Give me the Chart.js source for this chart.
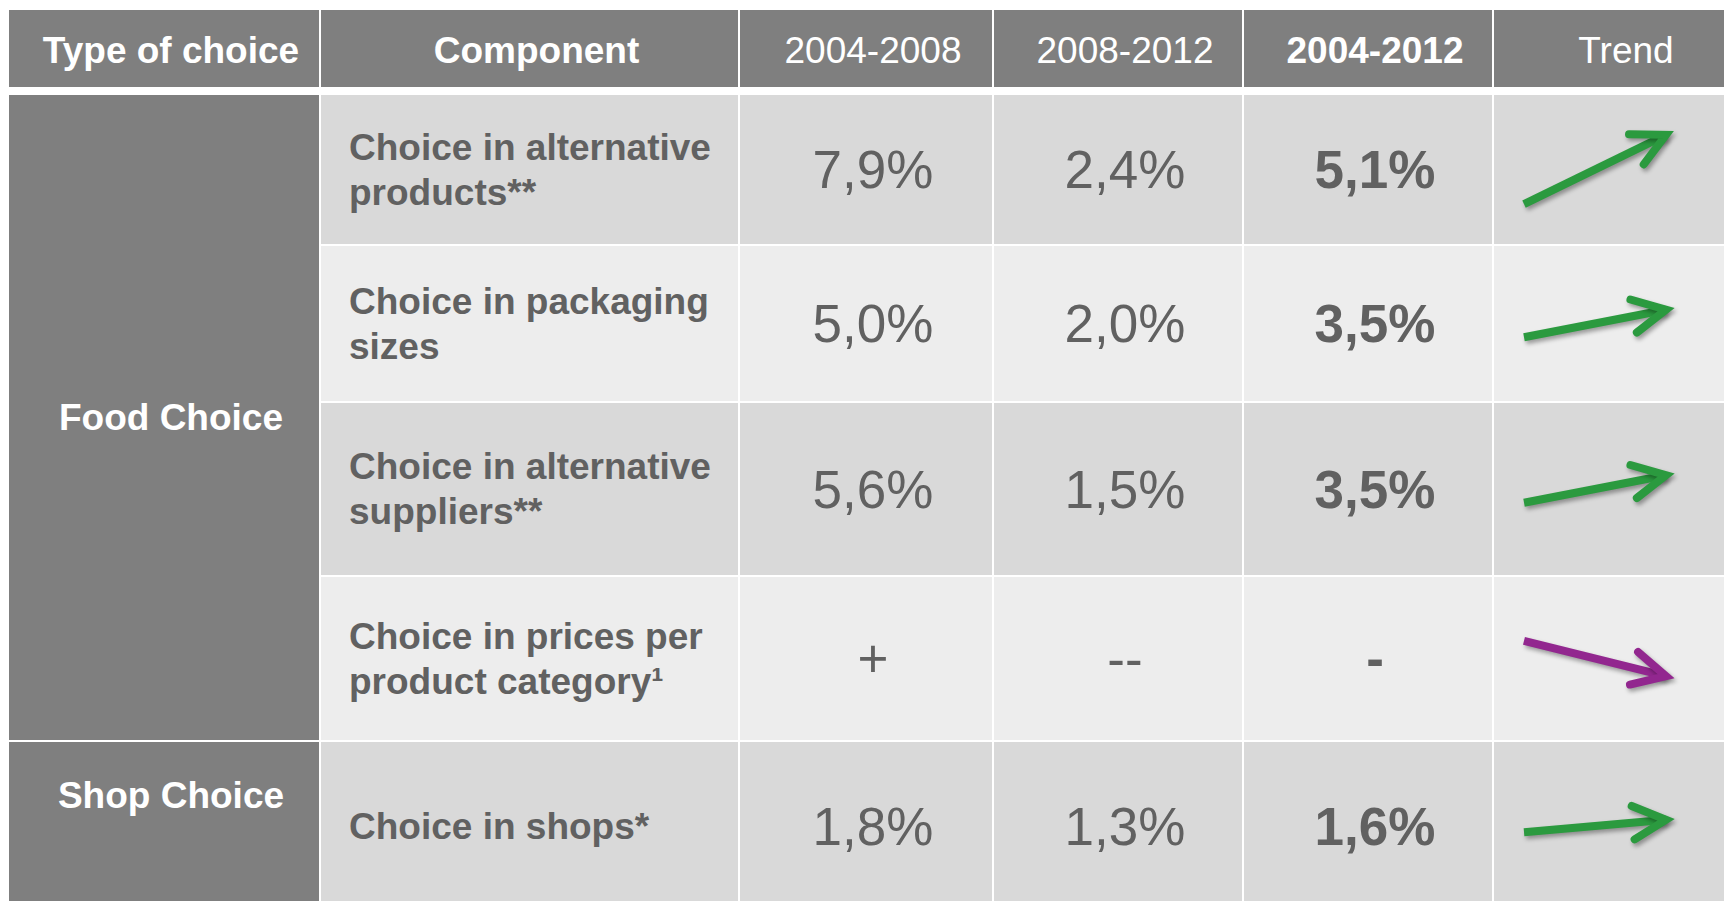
<!DOCTYPE html>
<html>
<head>
<meta charset="utf-8">
<title>Choice growth by component</title>
<script src="https://cdn.jsdelivr.net/npm/chart.js@4/dist/chart.umd.min.js"></script>
<style>
    body {
        margin: 0;
        width: 1724px;
        height: 901px;
        overflow: hidden;
        background: #fff;
        font-family: "Liberation Sans", Arial, sans-serif;
    }
    #grid {
        position: absolute;
        left: 9px;
        top: 10px;
        display: grid;
        grid-template-columns: 310px 417px 252px 248px 248px 250px;
        grid-template-rows: 77px 4px 149px 155px 172px 163px 168px;
        gap: 2px;
    }
    #grid > div {
        box-sizing: border-box;
        display: flex;
        align-items: center;
    }
    .head {
        background: #7f7f7f;
        color: #fff;
        font-size: 37px;
        justify-content: center;
        padding-left: 14px;
        padding-top: 4px;
    }
    .head.bold { font-weight: bold; }
    .type {
        background: #7f7f7f;
        color: #fff;
        font-weight: bold;
        font-size: 37px;
        justify-content: center;
        padding-left: 14px;
    }
    .type.top { align-items: flex-start !important; padding-top: 33px; }
    .comp {
        color: #616161;
        font-weight: bold;
        font-size: 37px;
        line-height: 45px;
        padding-left: 28px;
        white-space: pre-line;
    }
    .val {
        color: #616161;
        font-size: 53px;
        justify-content: center;
        padding-left: 14px;
    }
    .val.bold { font-weight: bold; }
    .dark { background: #d9d9d9; }
    .light { background: #ededed; }
    .trend { position: relative; }
    .trend canvas { position: absolute; left: 0; top: 0; }
</style>
</head>
<body>
<div id="grid"></div>
<script>
// Table content
const headers = ["Type of choice", "Component", "2004-2008", "2008-2012", "2004-2012", "Trend"];
const boldHeaders = [true, true, false, false, true, false];
const choiceTypes = ["Food Choice", "Shop Choice"];
const typeRowSpans = [4, 1];
const components = [
    "Choice in alternative\nproducts**",
    "Choice in packaging\nsizes",
    "Choice in alternative\nsuppliers**",
    "Choice in prices per\nproduct category\u00b9",
    "Choice in shops*"
];
const growth2004_2008 = ["7,9%", "5,0%", "5,6%", "+", "1,8%"];
const growth2008_2012 = ["2,4%", "2,0%", "1,5%", "--", "1,3%"];
const growth2004_2012 = ["5,1%", "3,5%", "3,5%", "-", "1,6%"];
// arrow angle in degrees, positive = rising
const trendAngles = [26, 11, 11, -14, 5];

const rowHeights = [149, 155, 172, 163, 168];
const trendWidth = 250;
const upColor = "#2b9a3f";
const downColor = "#92278f";

const grid = document.getElementById("grid");

const addCell = (cls, text, style) => {
    const div = document.createElement("div");
    div.className = cls;
    if (text !== undefined) div.textContent = text;
    if (style) Object.assign(div.style, style);
    grid.appendChild(div);
    return div;
};

// header row + thin spacer row
headers.forEach((h, i) => addCell(boldHeaders[i] ? "head bold" : "head", h));
addCell("", undefined, { gridColumn: "1 / 7" });

// arrowhead + drop shadow for the trend lines
const arrowPlugin = {
    id: "arrowHead",
    beforeDatasetDraw(chart) {
        const ctx = chart.ctx;
        ctx.save();
        ctx.shadowColor = "rgba(0,0,0,0.35)";
        ctx.shadowBlur = 4;
        ctx.shadowOffsetX = 2;
        ctx.shadowOffsetY = 3;
    },
    afterDatasetDraw(chart) {
        const ctx = chart.ctx;
        const pts = chart.getDatasetMeta(0).data;
        const a = pts[0], b = pts[1];
        const ang = Math.atan2(b.y - a.y, b.x - a.x);
        const len = 37, spread = 27 * Math.PI / 180;
        ctx.beginPath();
        ctx.moveTo(b.x - len * Math.cos(ang - spread), b.y - len * Math.sin(ang - spread));
        ctx.lineTo(b.x, b.y);
        ctx.lineTo(b.x - len * Math.cos(ang + spread), b.y - len * Math.sin(ang + spread));
        ctx.strokeStyle = chart.data.datasets[0].borderColor;
        ctx.lineWidth = 8;
        ctx.lineJoin = "miter";
        ctx.lineCap = "round";
        ctx.stroke();
        ctx.restore();
    }
};

const drawTrend = (cell, angle, height) => {
    const canvas = document.createElement("canvas");
    canvas.width = trendWidth;
    canvas.height = height;
    cell.appendChild(canvas);

    const rise = Math.tan(angle * Math.PI / 180);
    const unit = 142; // px for one x unit
    const mid = rise / 2;
    const half = height / 2 / unit;

    new Chart(canvas, {
        type: "line",
        data: {
            datasets: [{
                data: [{ x: 0, y: 0 }, { x: 1, y: rise }],
                borderColor: angle >= 0 ? upColor : downColor,
                borderWidth: 8,
                borderCapStyle: "butt",
                pointRadius: 0,
                clip: false
            }]
        },
        options: {
            responsive: false,
            animation: false,
            events: [],
            layout: { padding: { left: 30, right: trendWidth - 30 - unit, top: 0, bottom: 0 } },
            scales: {
                x: { type: "linear", min: 0, max: 1, display: false },
                y: { type: "linear", min: mid - half, max: mid + half, display: false }
            },
            plugins: { legend: { display: false }, tooltip: { enabled: false } }
        },
        plugins: [arrowPlugin]
    });
};

// body rows
let typeIdx = 0, rowsLeft = 0, gridRow = 3;
components.forEach((comp, r) => {
    if (rowsLeft === 0) {
        const span = typeRowSpans[typeIdx];
        addCell(span === 1 ? "type top" : "type", choiceTypes[typeIdx], {
            gridColumn: "1", gridRow: `${gridRow} / span ${span}`
        });
        rowsLeft = span;
        typeIdx++;
    }
    rowsLeft--;
    const shade = r % 2 === 0 ? "dark" : "light";
    addCell(`comp ${shade}`, comp, { gridColumn: "2", gridRow: `${gridRow}` });
    addCell(`val ${shade}`, growth2004_2008[r], { gridColumn: "3", gridRow: `${gridRow}` });
    addCell(`val ${shade}`, growth2008_2012[r], { gridColumn: "4", gridRow: `${gridRow}` });
    addCell(`val bold ${shade}`, growth2004_2012[r], { gridColumn: "5", gridRow: `${gridRow}` });
    const t = addCell(`trend ${shade}`, undefined, { gridColumn: "6", gridRow: `${gridRow}` });
    drawTrend(t, trendAngles[r], rowHeights[r]);
    gridRow++;
});
</script>
</body>
</html>
